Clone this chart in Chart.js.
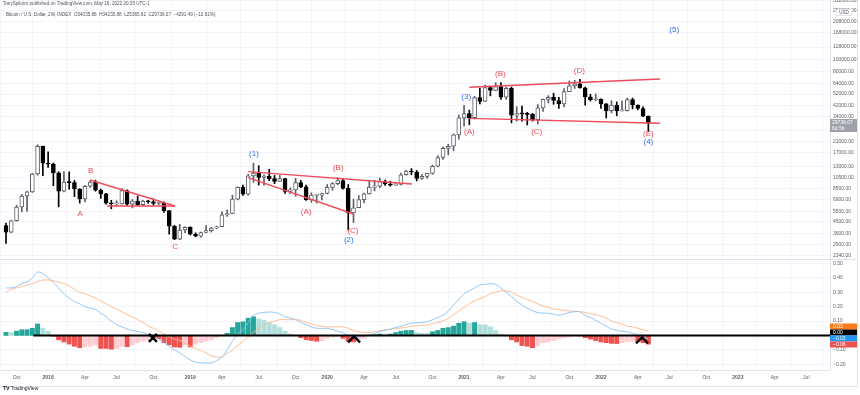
<!DOCTYPE html>
<html>
<head>
<meta charset="utf-8">
<script src="https://cdn.jsdelivr.net/npm/chart.js@4.4.1/dist/chart.umd.min.js"></script>
<style>
  html, body { margin: 0; padding: 0; background: #fff; }
  #wrap { position: relative; width: 860px; height: 395px; overflow: hidden; font-family: "Liberation Sans", Arial, sans-serif; }
  #wrap canvas { position: absolute; left: 0; }
  #priceCanvas { top: 0; }
  #macdCanvas { top: 259px; }
  .hdr { position: absolute; white-space: nowrap; color: #50535e; font-size: 4.6px; line-height: 6px; }
  .rule { position: absolute; background: #e0e3eb; }
  #logo { position: absolute; left: 3px; top: 385px; font-size: 5px; color: #131722; white-space: nowrap; }
  #logo b { font-size: 5.5px; letter-spacing: -0.3px; }
</style>
</head>
<body>
<div id="wrap">
  <canvas id="priceCanvas" width="860" height="259"></canvas>
  <canvas id="macdCanvas" width="860" height="127"></canvas>
  <div class="rule" style="left:0;top:259px;width:857px;height:1px"></div>
  <div class="rule" style="left:857px;top:0;width:1px;height:386px"></div>
  <div class="rule" style="left:0;top:386px;width:858px;height:1px"></div>
  <div class="hdr" style="left:3px;top:1px">TonySpilotro published on TradingView.com, May 16, 2022 20:35 UTC-1</div>
  <div class="hdr" style="left:6px;top:12px">Bitcoin / U.S. Dollar, 2W, INDEX&nbsp; O34035.88&nbsp; H34235.88&nbsp; L25365.62&nbsp; C29736.07&nbsp; −4291.49 (−12.61%)</div>
  <div id="logo"><b>TV</b> TradingView</div>
</div>
<script>
// 2W bars, index 0 = 2017-09-11 ... index 122 = 2022-05-09 (TradingView resets the 2W grid each year)
const opens = [4200,3700,4600,5980,7380,8000,11250,19100,
  13850,13600,11500,8100,9650,9550,8450,7000,8900,9650,8250,7700,6450,6350,6350,8200,6300,6700,6250,6700,6600,6400,6450,5580,4150,3230,3850,
  4050,3550,3420,3670,3800,4000,4100,5150,5280,6950,8700,7650,10850,11450,10550,10800,10300,9750,10300,8050,8300,9550,8800,6900,7500,7500,
  7750,8700,9350,9900,8550,5350,5900,6900,7700,8750,8900,9750,9300,9100,9200,11100,11900,11700,10350,10750,11400,13050,15450,18400,19150,23850,
  33000,35800,33100,48700,45200,59000,55800,60000,49100,58200,34700,35800,35600,35300,31800,39900,47000,48800,46000,43200,54600,61000,63300,58600,49400,46700,
  47300,43100,37900,42200,37700,37800,46800,42200,39500,34035.88];
const highs = [4400,4650,6200,7600,8100,11400,19700,19200,
  17250,13900,11750,11800,11700,9950,8500,9050,9950,10000,8450,7780,6800,6750,8500,8300,6900,7400,6800,6800,7000,6550,6600,5600,4200,4300,4100,
  4100,3650,3700,4200,4050,4150,5450,5650,7500,8800,9100,11200,13850,13200,11100,12300,10950,10950,10350,8650,10350,9950,9100,7850,7650,7800,
  9200,9550,10500,10250,9200,6950,7450,7800,10000,10000,10400,10000,9800,9450,11450,12100,12500,12050,11150,11450,13350,15950,18950,19900,24250,34800,
  41950,38300,49700,58350,61800,60600,64850,64900,59500,59600,40850,41300,36700,35950,42600,47200,50500,52900,48850,57800,67000,67700,69000,59400,51900,52100,
  47500,43500,45800,44750,45400,48200,48200,42400,40800,34235.88];
const lows = [2975,3650,4550,5450,5500,7900,11000,10900,
  12750,9000,6000,8000,8400,7300,6450,6600,8700,8100,7050,6300,5780,6100,6300,6130,5880,6150,6100,6450,6200,6250,5400,3550,3200,3200,3650,
  3500,3380,3350,3650,3700,3950,4100,5000,5250,6850,7450,7500,9600,9100,9100,9900,9350,9750,7750,7750,7350,8650,6800,6550,6450,6850,
  7700,8250,9150,8400,3850,4450,5900,6500,7650,8150,8650,9050,8900,9050,9150,11000,11100,9850,10150,10350,11200,12900,14850,16250,17650,21900,
  28150,28900,32300,43000,45000,50300,55500,47000,47000,30000,31000,31000,28800,31000,29300,37400,43900,42800,39600,40750,54500,58000,58400,42000,45500,45600,
  39600,32900,36300,34300,37500,37600,39200,38500,33700,25365.62];
const closes = [3700,4600,5980,7380,8000,11250,19100,13850,
  13600,11500,8100,9650,9550,8450,7000,8900,9650,8250,7700,6450,6350,6350,8200,6300,6700,6250,6700,6600,6400,6450,5580,4150,3230,3850,4050,
  3550,3420,3670,3800,4000,4100,5150,5280,6950,8700,7650,10850,11450,10550,10800,10300,9750,10300,8050,8300,9550,8800,6900,7500,7500,7750,
  8700,9350,9900,8550,5350,5900,6900,7700,8750,8900,9750,9300,9100,9200,11100,11900,11700,10350,10750,11400,13050,15450,18400,19150,23850,33000,
  35800,33100,48700,45200,59000,55800,60000,49100,58200,34700,35800,35600,35300,31800,39900,47000,48800,46000,43200,54600,61000,63300,58600,49400,46700,47300,
  43100,37900,42200,37700,37800,46800,42200,39500,34030,29736.07];

// MACD pane
const macdLine = [0.33,0.33,0.34,0.36,0.37,0.40,0.44,0.43,0.40,0.37,
  0.33,0.29,0.26,0.235,0.22,0.20,0.19,0.18,0.155,0.13,
  0.10,0.075,0.06,0.045,0.035,0.028,0.02,0.008,-0.01,-0.025,
  -0.05,-0.075,-0.10,-0.12,-0.145,-0.17,-0.185,-0.19,-0.19,-0.19,
  -0.175,-0.15,-0.10,-0.04,0.01,0.04,0.09,0.14,0.155,0.16,
  0.163,0.16,0.15,0.13,0.12,0.11,0.09,0.075,0.06,0.05,
  0.05,0.05,0.04,0.03,0.02,0.0,-0.012,-0.01,-0.003,0.005,
  0.015,0.026,0.036,0.045,0.055,0.065,0.075,0.085,0.088,0.09,
  0.095,0.11,0.125,0.14,0.17,0.21,0.25,0.29,0.31,0.33,
  0.35,0.355,0.36,0.355,0.33,0.30,0.27,0.24,0.21,0.19,
  0.17,0.16,0.155,0.154,0.147,0.14,0.15,0.16,0.165,0.165,
  0.14,0.125,0.105,0.085,0.065,0.045,0.035,0.03,0.025,0.015,
  0.003,-0.01,-0.025];
const signalLine = [0.30,0.32,0.33,0.34,0.35,0.36,0.375,0.385,0.385,0.38,
  0.37,0.36,0.345,0.32,0.30,0.29,0.275,0.26,0.24,0.22,
  0.20,0.185,0.165,0.145,0.13,0.11,0.09,0.065,0.05,0.03,
  0.01,-0.01,-0.025,-0.035,-0.055,-0.075,-0.09,-0.105,-0.12,-0.14,
  -0.15,-0.15,-0.125,-0.10,-0.07,-0.04,-0.01,0.02,0.05,0.075,
  0.09,0.10,0.11,0.11,0.11,0.11,0.105,0.09,0.08,0.07,
  0.065,0.06,0.06,0.06,0.06,0.05,0.035,0.026,0.022,0.02,
  0.026,0.033,0.038,0.042,0.048,0.052,0.057,0.065,0.068,0.071,
  0.073,0.082,0.09,0.10,0.12,0.145,0.17,0.195,0.22,0.24,
  0.255,0.27,0.29,0.30,0.31,0.31,0.30,0.28,0.265,0.25,
  0.235,0.22,0.205,0.195,0.185,0.18,0.175,0.17,0.168,0.165,
  0.16,0.15,0.145,0.135,0.12,0.10,0.09,0.08,0.065,0.06,
  0.05,0.04,0.033];
const histogram = [0.022,0.02,0.03,0.04,0.04,0.05,0.08,0.05,0.03,-0.005,
  -0.03,-0.045,-0.06,-0.075,-0.085,-0.08,-0.075,-0.065,-0.09,-0.09,
  -0.095,-0.09,-0.075,-0.078,-0.065,-0.05,-0.04,-0.03,-0.02,-0.022,
  -0.05,-0.065,-0.08,-0.082,-0.065,-0.08,-0.06,-0.05,-0.04,-0.03,
  -0.015,0.002,0.015,0.055,0.09,0.095,0.12,0.13,0.115,0.105,
  0.09,0.075,0.055,0.03,0.01,0.002,-0.015,-0.03,-0.035,-0.04,
  -0.035,-0.02,-0.01,-0.005,-0.02,-0.04,-0.045,-0.03,-0.02,-0.005,
  0.005,0.01,0.008,0.01,0.02,0.03,0.035,0.036,0.02,0.015,
  0.014,0.026,0.035,0.05,0.055,0.065,0.085,0.095,0.085,0.09,
  0.075,0.074,0.06,0.035,0.01,-0.002,-0.03,-0.045,-0.07,-0.075,
  -0.085,-0.07,-0.05,-0.045,-0.035,-0.025,-0.015,-0.01,-0.002,-0.003,
  -0.015,-0.025,-0.035,-0.045,-0.05,-0.055,-0.056,-0.05,-0.045,-0.04,
  -0.042,-0.05,-0.06];

// axis ticks
const tickLabels = ['Oct','2018','Apr','Jul','Oct','2019','Apr','Jul','Oct','2020','Apr','Jul','Oct',
  '2021','Apr','Jul','Oct','2022','Apr','Jul','Oct','2023','Apr','Jul'];
const tickBars = [2,8,15,21,28,35,41,48,55,61,68,74,81,87,94,100,107,113,120,126,133,139,146,152];
const priceTicks = [2340,2900,3600,4500,5500,6900,8500,10500,13000,17000,21000,26000,34000,42000,52000,64000,80000,100000,128000,168000,208000,256000,312000];
const macdTicks = [-0.2,-0.1,0.1,0.2,0.3,0.4,0.5];

// drawings
const redWaveText  = ['B','A','C','(B)','(A)','(C)','(A)','(B)','(C)','(D)','(E)'];
const redWaveBar   = [16.1,14.1,32.1,63.1,57.0,65.9,88.0,93.9,100.8,108.9,122.0];
const redWavePrice = [11990,5300,2765,12560,5470,3800,25300,76500,25300,81400,24300];
const blueWaveText  = ['(1)','(2)','(3)','(4)','(5)'];
const blueWaveBar   = [47.1,65.1,87.4,122.0,126.9];
const blueWavePrice = [16500,3220,49500,20800,177600];
const trendBarA   = [15.95,19.2,46.0,46.0,88.0,88.0];
const trendPriceA = [10040,6100,11770,10490,59300,32700];
const trendBarB   = [32.1,32.1,77.1,66.0,124.2,124.2];
const trendPriceB = [6100,6100,9290,5230,69500,29740];
const zeroLineFrom = 5.2;
const crossMarks = [27.9];
const crossValues = [-0.017];
const caretMarks = [66.1,120.8];
const caretValues = [-0.024,-0.031];

const X_MIN = -1.14, X_MAX = 156.5;
const P_MIN = 2209, P_MAX = 315550;
const M_MIN = -0.2396, M_MAX = 0.531;
const FONT = '"Liberation Sans", Arial, sans-serif';
const RED = '#ef4b5a', BLUE = '#2f6bf0', GRID = '#f2f4f9', AXIS_TXT = '#5d606b';

const bars = closes.map((c, i) => i);
const isUp = i => closes[i] >= opens[i];

function noPad(s) { s.paddingTop = 0; s.paddingBottom = 0; s.paddingLeft = 0; s.paddingRight = 0; }

const xScale = (showLabels) => ({
  type: 'linear', min: X_MIN, max: X_MAX, offset: false,
  grid: { color: GRID, drawTicks: false },
  border: { display: showLabels, color: '#e0e3eb' },
  ticks: {
    display: showLabels, padding: 5, color: AXIS_TXT, maxRotation: 0, autoSkip: false,
    font: ctx => ({ family: FONT, size: 5, weight: /^\d{4}$/.test(tickLabels[ctx.index] || '') ? 'bold' : 'normal' }),
    callback: (v, i) => tickLabels[i]
  },
  afterBuildTicks: s => { s.ticks = tickBars.map(v => ({ value: v })); },
  afterFit: s => { s.height = showLabels ? 16 : 0; noPad(s); }
});

// price pane overlays: wave labels, last price badge, currency badge
const priceOverlay = {
  id: 'priceOverlay',
  afterDraw(chart) {
    const { ctx, scales: { x, y } } = chart;
    ctx.save();
    ctx.font = '8px ' + FONT;
    ctx.textAlign = 'center';
    ctx.textBaseline = 'middle';
    ctx.fillStyle = RED;
    redWaveText.forEach((t, i) => ctx.fillText(t, x.getPixelForValue(redWaveBar[i]), y.getPixelForValue(redWavePrice[i])));
    ctx.fillStyle = BLUE;
    blueWaveText.forEach((t, i) => ctx.fillText(t, x.getPixelForValue(blueWaveBar[i]), y.getPixelForValue(blueWavePrice[i])));

    const last = closes[closes.length - 1];
    const yl = Math.round(y.getPixelForValue(last));
    ctx.fillStyle = '#9ea1aa';
    ctx.fillRect(830, yl - 4, 27, 13);
    ctx.fillStyle = '#fff';
    ctx.font = '5px ' + FONT;
    ctx.textAlign = 'left';
    ctx.fillText(last.toFixed(2), 832, yl);
    ctx.fillText('6d 5h', 832, yl + 6);

    ctx.fillStyle = '#fff';
    ctx.fillRect(836, 9, 16, 7);
    ctx.strokeStyle = '#d1d4dc';
    ctx.lineWidth = 0.6;
    ctx.strokeRect(836.5, 9.5, 15, 6);
    ctx.fillStyle = '#50535e';
    ctx.font = '4.5px ' + FONT;
    ctx.textAlign = 'center';
    ctx.fillText('USD', 844, 12.8);
    ctx.restore();
  }
};

const trendSets = trendBarA.map((b, i) => ({
  type: 'line',
  data: [{ x: b, y: trendPriceA[i] }, { x: trendBarB[i], y: trendPriceB[i] }],
  borderColor: RED, borderWidth: 1.4, pointRadius: 0, order: 0
}));

new Chart(document.getElementById('priceCanvas'), {
  type: 'bar',
  data: {
    datasets: [
      {
        data: bars.map(i => ({ x: i, y: [Math.min(opens[i], closes[i]), Math.max(opens[i], closes[i])] })),
        backgroundColor: bars.map(i => isUp(i) ? '#ffffff' : '#000000'),
        borderColor: bars.map(i => isUp(i) ? '#5d606b' : '#000000'),
        borderWidth: 1, borderSkipped: false, barThickness: 4, minBarLength: 1, grouped: false, order: 1
      },
      {
        data: bars.map(i => ({ x: i, y: [lows[i], highs[i]] })),
        backgroundColor: bars.map(i => isUp(i) ? '#5d606b' : '#000000'),
        barThickness: 1, grouped: false, order: 2
      },
      ...trendSets
    ]
  },
  options: {
    responsive: false, animation: false, events: [],
    layout: { padding: 0 },
    plugins: { legend: { display: false }, tooltip: { enabled: false } },
    scales: {
      x: xScale(false),
      y: {
        type: 'logarithmic', position: 'right', min: P_MIN, max: P_MAX,
        grid: { color: GRID, drawTicks: false },
        border: { color: '#e0e3eb' },
        ticks: { padding: 3, color: AXIS_TXT, font: { family: FONT, size: 5 }, callback: v => Number(v).toFixed(2) },
        afterBuildTicks: s => { s.ticks = priceTicks.map(v => ({ value: v })); },
        afterFit: s => { s.width = 30; noPad(s); }
      }
    }
  },
  plugins: [priceOverlay]
});

// MACD pane overlays: cross / caret marks and value badges
const macdOverlay = {
  id: 'macdOverlay',
  afterDatasetsDraw(chart) {
    const { ctx, scales: { x, y } } = chart;
    ctx.save();
    ctx.strokeStyle = '#000';
    ctx.lineWidth = 2.4;
    ctx.lineCap = 'butt';
    crossMarks.forEach((b, i) => {
      const cx = x.getPixelForValue(b), cy = y.getPixelForValue(crossValues[i]);
      ctx.beginPath();
      ctx.moveTo(cx - 4, cy - 4); ctx.lineTo(cx + 4, cy + 4);
      ctx.moveTo(cx + 4, cy - 4); ctx.lineTo(cx - 4, cy + 4);
      ctx.stroke();
    });
    caretMarks.forEach((b, i) => {
      const cx = x.getPixelForValue(b), cy = y.getPixelForValue(caretValues[i]);
      ctx.beginPath();
      ctx.moveTo(cx - 6, cy + 3.5); ctx.lineTo(cx, cy - 2.5); ctx.lineTo(cx + 6, cy + 3.5);
      ctx.stroke();
    });
    ctx.restore();
  },
  afterDraw(chart) {
    const { ctx, scales: { y } } = chart;
    const n = macdLine.length - 1;
    const fmt = v => (v < 0 ? '\u2212' : '') + Math.abs(v).toFixed(2);
    const badges = [
      [fmt(signalLine[n]), '#ff7a1a', '#fff'],
      [fmt(0), '#000000', '#fff'],
      [fmt(macdLine[n]), '#2196f3', '#fff'],
      [fmt(histogram[n]), '#ef5350', '#fff']
    ];
    const y0 = y.getPixelForValue(0);
    ctx.save();
    ctx.font = '5px ' + FONT;
    ctx.textBaseline = 'middle';
    ctx.textAlign = 'left';
    badges.forEach((b, i) => {
      const cy = y0 - 9 + i * 6;
      ctx.fillStyle = b[1];
      ctx.fillRect(830, cy - 3, 27, 6);
      ctx.fillStyle = b[2];
      ctx.fillText(b[0], 833, cy + 0.3);
    });
    ctx.restore();
  }
};

new Chart(document.getElementById('macdCanvas'), {
  type: 'bar',
  data: {
    datasets: [
      {
        type: 'line',
        data: [{ x: zeroLineFrom, y: 0 }, { x: X_MAX, y: 0 }],
        borderColor: '#000', borderWidth: 2, pointRadius: 0, order: 0
      },
      {
        type: 'line',
        data: bars.map(i => ({ x: i, y: macdLine[i] })),
        borderColor: '#86c1f6', borderWidth: 0.9, pointRadius: 0, tension: 0.3, order: 1
      },
      {
        type: 'line',
        data: bars.map(i => ({ x: i, y: signalLine[i] })),
        borderColor: '#ffb584', borderWidth: 0.9, pointRadius: 0, tension: 0.3, order: 1
      },
      {
        data: bars.map(i => ({ x: i, y: histogram[i] })),
        backgroundColor: bars.map(i => {
          const h = histogram[i], p = i > 0 ? histogram[i - 1] : h;
          if (h >= 0) return h >= p ? '#26a69a' : '#b2dfdb';
          return h <= p ? '#ef5350' : '#ffcdd2';
        }),
        barThickness: 4.3, grouped: false, order: 2
      }
    ]
  },
  options: {
    responsive: false, animation: false, events: [],
    layout: { padding: 0 },
    plugins: { legend: { display: false }, tooltip: { enabled: false } },
    scales: {
      x: xScale(true),
      y: {
        type: 'linear', position: 'right', min: M_MIN, max: M_MAX,
        grid: { color: GRID, drawTicks: false },
        border: { color: '#e0e3eb' },
        ticks: { padding: 3, color: AXIS_TXT, font: { family: FONT, size: 5 }, callback: v => (v < 0 ? '\u2212' : '') + Math.abs(v).toFixed(2) },
        afterBuildTicks: s => { s.ticks = macdTicks.map(v => ({ value: v })); },
        afterFit: s => { s.width = 30; noPad(s); }
      }
    }
  },
  plugins: [macdOverlay]
});
</script>
</body>
</html>
